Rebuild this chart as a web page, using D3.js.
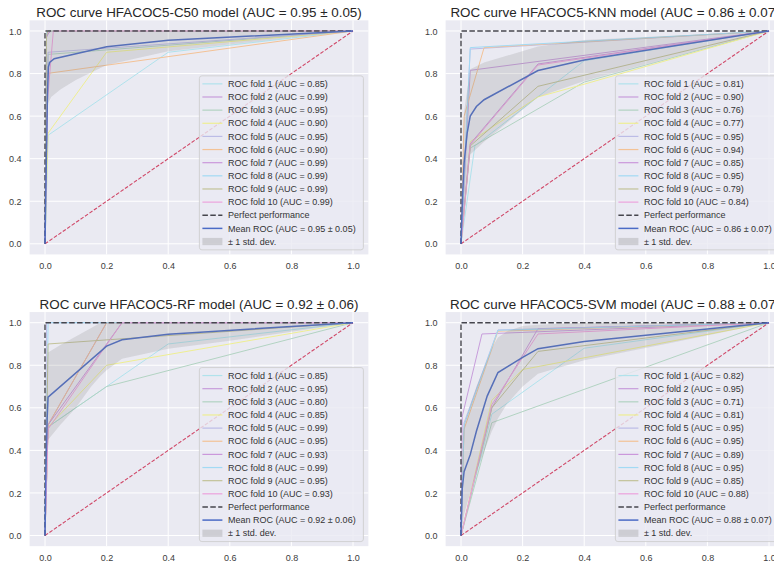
<!DOCTYPE html>
<html><head><meta charset="utf-8">
<script src="https://cdn.jsdelivr.net/npm/d3@7"></script>
<style>
body{margin:0;background:#fff}
svg{display:block}
text{font-family:"Liberation Sans",Arial,Helvetica,sans-serif}
</style></head>
<body><svg id="chart" width="774" height="564"></svg>
<script>
// ---------------- data ----------------
const ticks = [0, 0.2, 0.4, 0.6, 0.8, 1.0];
const foldNames = ["ROC fold 1","ROC fold 2","ROC fold 3","ROC fold 4","ROC fold 5",
                   "ROC fold 6","ROC fold 7","ROC fold 8","ROC fold 9","ROC fold 10"];
const foldColors = ["#b0e2ec","#c79ddb","#b2d3c2","#eeee92","#bcbce6",
                    "#f3c296","#cb98db","#a2daf4","#c2c298","#eca2dc"];

// C50
const c50Title = "ROC curve HFACOC5-C50 model (AUC = 0.95 ± 0.05)";
const c50Auc = ["0.85","0.99","0.95","0.90","0.95","0.90","0.99","0.99","0.99","0.99"];
const c50MeanAuc = "0.95 ± 0.05";
const c50Folds = [
  [[0,0],[0.01,0.51],[0.4,0.9],[1,1]],
  [[0,0],[0.005,0.98],[0.02,1],[1,1]],
  [[0,0],[0.01,0.89],[1,1]],
  [[0,0],[0.01,0.52],[0.2,0.9],[1,1]],
  [[0,0],[0.01,0.9],[1,1]],
  [[0,0],[0.005,0.8],[1,1]],
  [[0,0],[0.005,0.97],[0.015,1],[1,1]],
  [[0,0],[0.005,0.99],[0.01,1],[1,1]],
  [[0,0],[0.005,0.98],[0.01,1],[1,1]],
  [[0,0],[0.008,0.67],[0.027,1],[1,1]]
];
const c50Mean = [[0,0],[0.005,0.45],[0.008,0.7],[0.011,0.83],[0.015,0.852],[0.03,0.87],[0.2,0.926],[0.4,0.957],[1,1]];
const c50Band = [[0,0,0],[0.004,0.25,1],[0.01,0.66,1],[0.02,0.69,1],[0.05,0.725,1],[0.1,0.77,1],[0.2,0.84,1],[0.4,0.905,1],[1,1,1]];

// KNN
const knnTitle = "ROC curve HFACOC5-KNN model (AUC = 0.86 ± 0.07)";
const knnAuc = ["0.81","0.90","0.76","0.77","0.95","0.94","0.85","0.95","0.79","0.84"];
const knnMeanAuc = "0.86 ± 0.07";
const knnFolds = [
  [[0,0],[0.045,0.46],[0.4,0.86],[1,1]],
  [[0,0],[0.03,0.815],[1,1]],
  [[0,0],[0.03,0.45],[0.4,0.76],[1,1]],
  [[0,0],[0.03,0.48],[0.25,0.69],[0.4,0.75],[1,1]],
  [[0,0],[0.03,0.915],[1,1]],
  [[0,0],[0.01,0.6],[0.075,0.922],[1,1]],
  [[0,0],[0.03,0.47],[0.25,0.845],[1,1]],
  [[0,0],[0.03,0.922],[1,1]],
  [[0,0],[0.03,0.46],[0.25,0.74],[1,1]],
  [[0,0],[0.03,0.465],[0.25,0.84],[1,1]]
];
const knnMean = [[0,0],[0.005,0.22],[0.01,0.38],[0.02,0.52],[0.03,0.6],[0.05,0.645],[0.075,0.677],[0.25,0.814],[0.4,0.864],[1,1]];
const knnBand = [[0,0,0],[0.01,0.15,0.62],[0.03,0.42,0.82],[0.075,0.48,0.852],[0.25,0.69,0.927],[0.4,0.765,0.958],[1,1,1]];

// RF
const rfTitle = "ROC curve HFACOC5-RF model (AUC = 0.92 ± 0.06)";
const rfAuc = ["0.85","0.95","0.80","0.85","0.99","0.95","0.93","0.99","0.95","0.93"];
const rfMeanAuc = "0.92 ± 0.06";
const rfFolds = [
  [[0,0],[0.01,0.51],[0.2,0.7],[0.4,0.9],[1,1]],
  [[0,0],[0.01,0.52],[0.2,1],[1,1]],
  [[0,0],[0.01,0.51],[0.2,0.7],[1,1]],
  [[0,0],[0.01,0.51],[0.2,0.8],[1,1]],
  [[0,0],[0.005,1],[1,1]],
  [[0,0],[0.01,0.52],[0.2,1],[1,1]],
  [[0,0],[0.01,0.52],[0.25,1],[1,1]],
  [[0,0],[0.01,1],[1,1]],
  [[0,0],[0.01,0.9],[1,1]],
  [[0,0],[0.01,0.5],[0.25,1],[1,1]]
];
const rfMean = [[0,0],[0.003,0.3],[0.007,0.55],[0.01,0.65],[0.2,0.89],[0.25,0.92],[0.4,0.946],[1,1]];
const rfBand = [[0,0,0],[0.005,0.3,0.7],[0.01,0.45,0.86],[0.05,0.52,0.895],[0.1,0.6,0.935],[0.15,0.7,0.975],[0.18,0.75,1],[0.2,0.776,1],[0.25,0.83,1],[0.4,0.878,1],[0.6,0.915,1],[1,1,1]];

// SVM
const svmTitle = "ROC curve HFACOC5-SVM model (AUC = 0.88 ± 0.07)";
const svmAuc = ["0.82","0.95","0.71","0.81","0.95","0.95","0.89","0.95","0.85","0.88"];
const svmMeanAuc = "0.88 ± 0.07";
const svmFolds = [
  [[0,0],[0.1,0.57],[0.4,0.88],[1,1]],
  [[0,0],[0.004,0.56],[0.068,0.947],[1,1]],
  [[0,0],[0.1,0.53],[1,1]],
  [[0,0],[0.1,0.635],[0.2,0.78],[1,1]],
  [[0,0],[0.01,0.53],[0.12,0.966],[1,1]],
  [[0,0],[0.01,0.5],[0.12,0.96],[1,1]],
  [[0,0],[0.1,0.6],[0.25,0.972],[1,1]],
  [[0,0],[0.01,0.52],[0.12,0.964],[1,1]],
  [[0,0],[0.1,0.6],[0.25,0.865],[1,1]],
  [[0,0],[0.1,0.615],[0.25,0.947],[1,1]]
];
const svmMean = [[0,0],[0.004,0.22],[0.01,0.3],[0.03,0.38],[0.05,0.49],[0.085,0.655],[0.12,0.766],[0.2,0.837],[0.25,0.878],[0.4,0.912],[1,1]];
const svmBand = [[0,0,0],[0.005,0.05,0.45],[0.01,0.1,0.52],[0.05,0.3,0.7],[0.1,0.49,0.88],[0.12,0.55,0.93],[0.15,0.62,0.96],[0.2,0.7,0.985],[0.25,0.76,0.99],[0.4,0.823,1],[0.7,0.91,1],[1,1,1]];

// ---------------- layout ----------------
const panels = [
  {title:c50Title, auc:c50Auc, meanAuc:c50MeanAuc, folds:c50Folds, mean:c50Mean, band:c50Band, left:29.6, top:20.35},
  {title:knnTitle, auc:knnAuc, meanAuc:knnMeanAuc, folds:knnFolds, mean:knnMean, band:knnBand, left:445.6, top:20.35},
  {title:rfTitle,  auc:rfAuc,  meanAuc:rfMeanAuc,  folds:rfFolds,  mean:rfMean,  band:rfBand,  left:29.6, top:312.05},
  {title:svmTitle, auc:svmAuc, meanAuc:svmMeanAuc, folds:svmFolds, mean:svmMean, band:svmBand, left:445.6, top:312.05}
];
const AW = 338.8, AH = 234.1;
const svg = d3.select("#chart");

panels.forEach((p, pi) => {
  const x = d3.scaleLinear().domain([-0.05, 1.05]).range([p.left, p.left + AW]);
  const y = d3.scaleLinear().domain([-0.05, 1.05]).range([p.top + AH, p.top]);
  const g = svg.append("g");
  const clipId = "clip" + pi;
  svg.append("clipPath").attr("id", clipId).append("rect")
    .attr("x", p.left).attr("y", p.top).attr("width", AW).attr("height", AH);

  g.append("rect").attr("x", p.left).attr("y", p.top).attr("width", AW).attr("height", AH)
    .attr("fill", "#eaeaf2");

  // grid
  ticks.forEach(t => {
    g.append("line").attr("x1", x(t)).attr("x2", x(t)).attr("y1", p.top).attr("y2", p.top + AH)
      .attr("stroke", "#fff").attr("stroke-width", 1);
    g.append("line").attr("y1", y(t)).attr("y2", y(t)).attr("x1", p.left).attr("x2", p.left + AW)
      .attr("stroke", "#fff").attr("stroke-width", 1);
  });

  // tick labels via axes
  const xAxis = d3.axisBottom(x).tickValues(ticks).tickFormat(d3.format(".1f")).tickSize(0).tickPadding(0);
  const yAxis = d3.axisLeft(y).tickValues(ticks).tickFormat(d3.format(".1f")).tickSize(0).tickPadding(0);
  const gx = g.append("g").attr("transform", `translate(0,${p.top + AH})`).call(xAxis);
  gx.select(".domain").remove();
  gx.selectAll("text").attr("y", 14.6).attr("dy", 0).attr("font-size", 9).attr("fill", "#3c3c3c")
    .attr("font-family", "Liberation Sans, Arial, sans-serif");
  const gy = g.append("g").attr("transform", `translate(${p.left},0)`).call(yAxis);
  gy.select(".domain").remove();
  gy.selectAll("text").attr("x", -8).attr("dy", "0.35em").attr("font-size", 9).attr("fill", "#3c3c3c")
    .attr("font-family", "Liberation Sans, Arial, sans-serif");

  const plot = g.append("g").attr("clip-path", `url(#${clipId})`);
  const line = d3.line().x(d => x(d[0])).y(d => y(d[1]));

  p.folds.forEach((f, i) => {
    plot.append("path").attr("d", line(f)).attr("fill", "none")
      .attr("stroke", foldColors[i]).attr("stroke-width", 1);
  });
  // chance
  plot.append("path").attr("d", line([[0,0],[1,1]])).attr("fill", "none")
    .attr("stroke", "#d04868").attr("stroke-width", 1.1).attr("stroke-dasharray", "3.7,1.7");
  // perfect
  plot.append("path").attr("d", line([[0,0],[0,1],[1,1]])).attr("fill", "none")
    .attr("stroke", "#45454d").attr("stroke-width", 1.4).attr("stroke-dasharray", "5.5,2.4");
  // mean
  plot.append("path").attr("d", line(p.mean)).attr("fill", "none")
    .attr("stroke", "#4b6bc6").attr("stroke-width", 1.5);
  // std band
  const area = d3.area().x(d => x(d[0])).y0(d => y(d[1])).y1(d => y(d[2]));
  plot.append("path").attr("d", area(p.band)).attr("fill", "#808080").attr("fill-opacity", 0.2);

  // title
  g.append("text").attr("x", p.left + AW / 2).attr("y", p.top - 3.3)
    .attr("text-anchor", "middle").attr("font-size", 13.4).attr("fill", "#262626").text(p.title);

  // legend
  const lw = 164, lh = 174;
  const lx = p.left + AW - 5 - lw, ly = p.top + AH - 4.6 - lh;
  const lg = g.append("g");
  lg.append("rect").attr("x", lx).attr("y", ly).attr("width", lw).attr("height", lh)
    .attr("rx", 2.5).attr("fill", "#eaeaf2").attr("fill-opacity", 0.8)
    .attr("stroke", "#cccccc").attr("stroke-width", 0.8);
  const rowY = k => ly + 8 + k * 13.14;
  const labels = foldNames.map((n, i) => `${n} (AUC = ${p.auc[i]})`)
    .concat(["Perfect performance", `Mean ROC (AUC = ${p.meanAuc})`, "± 1 std. dev."]);
  labels.forEach((lab, k) => {
    const yy = rowY(k);
    if (k < 10) {
      lg.append("line").attr("x1", lx + 3).attr("x2", lx + 23).attr("y1", yy).attr("y2", yy)
        .attr("stroke", foldColors[k]).attr("stroke-width", 1.2);
    } else if (k === 10) {
      lg.append("line").attr("x1", lx + 3).attr("x2", lx + 23).attr("y1", yy).attr("y2", yy)
        .attr("stroke", "#45454d").attr("stroke-width", 1.4).attr("stroke-dasharray", "5.5,2.4");
    } else if (k === 11) {
      lg.append("line").attr("x1", lx + 3).attr("x2", lx + 23).attr("y1", yy).attr("y2", yy)
        .attr("stroke", "#4b6bc6").attr("stroke-width", 1.5);
    } else {
      lg.append("rect").attr("x", lx + 3).attr("y", yy - 3.6).attr("width", 20).attr("height", 7.2)
        .attr("fill", "#808080").attr("fill-opacity", 0.28);
    }
    lg.append("text").attr("x", lx + 28.5).attr("y", yy).attr("dy", "0.35em")
      .attr("font-size", 9).attr("fill", "#333").text(lab);
  });
});
</script>
</body></html>
